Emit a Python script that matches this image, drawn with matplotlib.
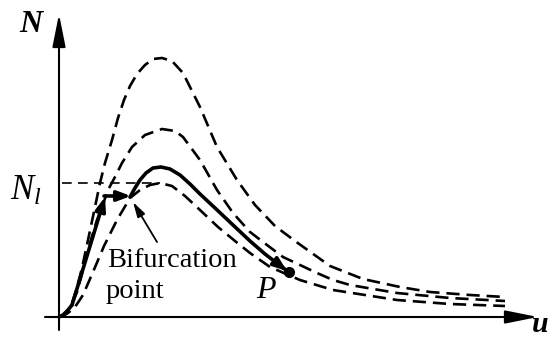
import numpy as np
import matplotlib
matplotlib.use("Agg")
import matplotlib.pyplot as plt

plt.rcParams['font.family'] = 'serif'
plt.rcParams['font.serif'] = ['Liberation Serif', 'DejaVu Serif']
plt.rcParams['mathtext.fontset'] = 'custom'
plt.rcParams['mathtext.rm'] = 'Liberation Serif'
plt.rcParams['mathtext.it'] = 'Liberation Serif:italic'
plt.rcParams['lines.scale_dashes'] = False

# load-displacement branches (u, N)
u_a = [0, 0.5, 0.9, 1.3, 1.7, 2.3, 2.9, 3.6, 4.1, 4.6, 5.3, 5.9, 6.5, 7.1, 7.8, 8.6,
       9.4, 10.3, 11.3, 12.4, 14.1, 15.8, 17.8, 19.6, 21.6, 23.6, 27.1, 30.4, 34.1,
       37.1, 41.1, 44.6]
n_a = [0, 0.2, 0.6, 1.4, 2.6, 4.9, 7.7, 11.0, 13.4, 15.4, 17.7, 19.9, 21.7, 23.1, 24.3,
       25.2, 25.8, 25.9, 25.6, 24.4, 21.0, 17.0, 13.7, 11.2, 9.1, 7.6, 5.1, 3.8, 3.0,
       2.5, 2.2, 2.0]

u_b = [0, 0.5, 0.9, 1.3, 1.8, 2.4, 3.1, 3.8, 4.3, 4.9, 5.6, 6.3, 7.3, 8.6, 10.3, 11.6,
       12.4, 14.1, 15.8, 17.4, 19.1, 20.8, 22.4, 24.1, 25.8, 27.4, 29.1, 33.8, 39.1, 44.6]
n_b = [0, 0.2, 0.6, 1.3, 2.5, 4.7, 7.4, 9.7, 11.0, 12.7, 14.0, 15.4, 17.0, 18.2, 18.8,
       18.6, 18.0, 15.7, 12.7, 10.4, 8.5, 7.2, 6.0, 5.2, 4.4, 3.7, 3.2, 2.4, 1.9, 1.6]

u_c = [0, 0.4, 0.9, 1.6, 2.4, 3.4, 4.5, 5.8, 7.1, 8.1, 9.1, 10.1, 11.3, 12.6, 14.1, 15.9,
       17.6, 19.1, 21.1, 24.1, 27.4, 33.8, 39.1, 44.6]
n_c = [0, 0.1, 0.4, 1.0, 2.2, 4.5, 7.1, 9.7, 11.9, 12.7, 13.2, 13.4, 13.1, 12.1, 10.7,
       9.0, 7.6, 6.4, 5.0, 3.7, 2.7, 1.7, 1.3, 1.1]

# actual path: pre-buckling, jump, then post-bifurcation branch down to P
u_pre = [0, 0.4, 0.9, 1.3]
n_pre = [0, 0.2, 0.7, 1.2]
u_jump = 4.6
n_jump = 12.1
u_bif = 7.2
u_post = [7.1, 7.6, 8.1, 8.7, 9.4, 10.2, 11.1, 12.1, 13.1, 14.1, 15.6, 17.4, 19.1,
          20.6, 21.9, 22.7]
n_post = [12.0, 12.9, 13.7, 14.4, 14.9, 15.0, 14.8, 14.2, 13.3, 12.3, 10.9, 9.2, 7.6,
          6.3, 5.3, 4.7]
p_point = (23.0, 4.5)
n_limit = 13.4

fig = plt.figure(figsize=(5.51, 3.41), dpi=100)
ax = fig.add_axes([0, 0, 1, 1])
ax.set_xlim(-5.9, 49.2)
ax.set_ylim(-2.4, 31.7)
ax.axis('off')

# axes with arrow heads
axis_arrow = dict(arrowstyle='-|>,head_length=20,head_width=4', lw=1.5, color='black',
                  shrinkA=0, shrinkB=0, mutation_scale=1)
ax.annotate('', xy=(0, 30.3), xytext=(0, -1.3), arrowprops=axis_arrow)
ax.annotate('', xy=(47.9, 0), xytext=(-1.4, 0), arrowprops=axis_arrow)

dash = (0, (9.5, 5))
for u, n in [(u_a, n_a), (u_b, n_b), (u_c, n_c)]:
    ax.plot(u, n, color='black', lw=1.9, linestyle=dash, dash_capstyle='butt')

# limit load level
ax.plot([0.3, 10.1], [n_limit, n_limit], color='black', lw=1.2, linestyle=(0, (7, 4.5)))

# solid equilibrium path with arrows
path_arrow = dict(arrowstyle='-|>,head_length=8,head_width=3', lw=2.6, color='black',
                  shrinkA=0, shrinkB=0, mutation_scale=1)
ax.plot(u_pre, n_pre, color='black', lw=2.6, solid_capstyle='round')
ax.annotate('', xy=(u_jump, n_jump - 0.1), xytext=(u_pre[-1], n_pre[-1]), arrowprops=path_arrow)
ax.annotate('', xy=(u_bif, n_jump), xytext=(u_jump - 0.1, n_jump), arrowprops=path_arrow)
ax.plot(u_post, n_post, color='black', lw=2.6, solid_capstyle='round')
ax.annotate('', xy=(p_point[0] - 0.2, p_point[1] + 0.1), xytext=(u_post[-2], n_post[-2]),
            arrowprops=path_arrow)
ax.plot(*p_point, 'o', color='black', markersize=7)

# pointer to the bifurcation point
ax.annotate('', xy=(7.4, 11.5), xytext=(9.8, 7.5),
            arrowprops=dict(arrowstyle='-|>,head_length=9,head_width=2.5', lw=1.3,
                            color='black', shrinkA=0, shrinkB=0, mutation_scale=1))

ax.text(4.8, 5.0, 'Bifurcation', fontsize=20.5, ha='left', va='baseline')
ax.text(4.7, 1.9, 'point', fontsize=20.5, ha='left', va='baseline')
ax.text(19.7, 1.9, 'P', fontsize=23, style='italic', ha='left', va='baseline')
ax.text(-4.9, 11.7, r'$N_l$', fontsize=25, ha='left', va='baseline')
ax.text(-2.8, 28.5, 'N', fontsize=23, style='italic', weight='bold', ha='center',
        va='baseline')
ax.text(47.3, -1.5, 'u', fontsize=21.5, style='italic', weight='bold', ha='left',
        va='baseline')

fig.savefig('out.png', dpi=100)
